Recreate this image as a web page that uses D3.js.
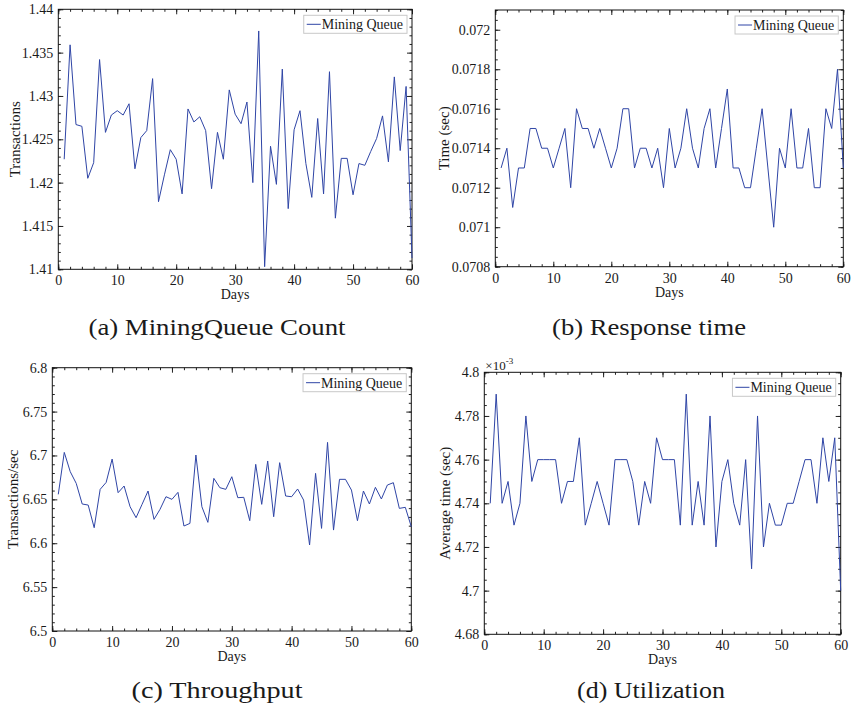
<!DOCTYPE html>
<html>
<head>
<meta charset="utf-8">
<script src="https://cdn.jsdelivr.net/npm/d3@7"></script>
<style>
  body { margin: 0; background: #fff; }
  svg text { font-family: "Liberation Serif", "Times New Roman", serif; fill: #1a1a1a; }
</style>
</head>
<body>
<svg width="851" height="708"></svg>
<script>
// day index shared by all four panels
const days = d3.range(1, 61);

// (a) mining queue count
const queueCount = [
  1.4227, 1.4359, 1.4267, 1.4265, 1.4205, 1.4223, 1.4342, 1.4258, 1.4278, 1.4283,
  1.4278, 1.4291, 1.4216, 1.4252, 1.4260, 1.4320, 1.4178, 1.4209, 1.4238, 1.4227,
  1.4187, 1.4285, 1.4270, 1.4276, 1.4260, 1.4193, 1.4258, 1.4227, 1.4307, 1.4279,
  1.4268, 1.4293, 1.4200, 1.4375, 1.4103, 1.4242, 1.4198, 1.4331, 1.4170, 1.4261,
  1.4283, 1.4222, 1.4183, 1.4274, 1.4187, 1.4328, 1.4159, 1.4228, 1.4228, 1.4186,
  1.4222, 1.4220, 1.4236, 1.4251, 1.4277, 1.4224, 1.4322, 1.4237, 1.4311, 1.4113
];
// (b) response time, sec
const responseTime = [
  0.0713, 0.0714, 0.0711, 0.0713, 0.0713, 0.0715, 0.0715, 0.0714, 0.0714, 0.0713,
  0.0714, 0.0715, 0.0712, 0.0716, 0.0715, 0.0715, 0.0714, 0.0715, 0.0714, 0.0713,
  0.0714, 0.0716, 0.0716, 0.0713, 0.0714, 0.0714, 0.0713, 0.0714, 0.0712, 0.0715,
  0.0713, 0.0714, 0.0716, 0.0714, 0.0713, 0.0715, 0.0716, 0.0713, 0.0715, 0.0717,
  0.0713, 0.0713, 0.0712, 0.0712, 0.0714, 0.0716, 0.0713, 0.0710, 0.0714, 0.0713,
  0.0716, 0.0713, 0.0713, 0.0715, 0.0712, 0.0712, 0.0716, 0.0715, 0.0718, 0.0713
];
// (c) throughput, transactions/sec
const throughput = [
  6.6557, 6.7035, 6.6815, 6.6682, 6.6447, 6.6435, 6.6177, 6.6614, 6.6693, 6.6959,
  6.6576, 6.6652, 6.6416, 6.6291, 6.6443, 6.6595, 6.6272, 6.6386, 6.6530, 6.6500,
  6.6580, 6.6196, 6.6226, 6.7005, 6.6416, 6.6238, 6.6739, 6.6633, 6.6614, 6.6758,
  6.6519, 6.6523, 6.6257, 6.6899, 6.6443, 6.6937, 6.6302, 6.6918, 6.6538, 6.6530,
  6.6618, 6.6492, 6.5980, 6.6796, 6.6169, 6.7149, 6.6150, 6.6728, 6.6728, 6.6606,
  6.6257, 6.6595, 6.6447, 6.6637, 6.6504, 6.6663, 6.6690, 6.6397, 6.6409, 6.6188
];
// (d) utilization, average time in units of 1e-3 sec
const utilization = [
  4.74, 4.79, 4.74, 4.75, 4.73, 4.74, 4.78, 4.75, 4.76, 4.76,
  4.76, 4.76, 4.74, 4.75, 4.75, 4.77, 4.73, 4.74, 4.75, 4.74,
  4.73, 4.76, 4.76, 4.76, 4.75, 4.73, 4.75, 4.74, 4.77, 4.76,
  4.76, 4.76, 4.73, 4.79, 4.73, 4.75, 4.73, 4.78, 4.72, 4.75,
  4.76, 4.74, 4.73, 4.76, 4.71, 4.78, 4.72, 4.74, 4.73, 4.73,
  4.74, 4.74, 4.75, 4.76, 4.76, 4.74, 4.77, 4.75, 4.77, 4.70
];

const xTicks = [0, 10, 20, 30, 40, 50, 60];
const countTicks = [1.41, 1.415, 1.42, 1.425, 1.43, 1.435, 1.44];
const responseTicks = [0.0708, 0.071, 0.0712, 0.0714, 0.0716, 0.0718, 0.072];
const throughputTicks = [6.5, 6.55, 6.6, 6.65, 6.7, 6.75, 6.8];
const utilTicks = [4.68, 4.7, 4.72, 4.74, 4.76, 4.78, 4.8];

const lineColor = '#2f45a6';
const svg = d3.select('svg');

const panels = [
  {values: queueCount, yDomain: [1.41, 1.44], yTicks: countTicks, yMinor: 5,
    box: [58.3, 412, 9.3, 269.3], yLabel: 'Transactions', yLabelX: 15,
    caption: '(a) MiningQueue Count', capX: 217, capY: 335, capW: 257},
  {values: responseTime, yDomain: [0.0708, 0.0721], yTicks: responseTicks, yMinor: 4,
    box: [495.3, 843.3, 10, 266.7], yLabel: 'Time (sec)', yLabelX: 444,
    caption: '(b) Response time', capX: 649, capY: 335, capW: 194},
  {values: throughput, yDomain: [6.5, 6.8], yTicks: throughputTicks, yMinor: 5,
    box: [52.3, 411.3, 367.7, 631], yLabel: 'Transactions/sec', yLabelX: 13,
    caption: '(c) Throughput', capX: 217, capY: 698, capW: 171},
  {values: utilization, yDomain: [4.68, 4.8], yTicks: utilTicks, yMinor: 4,
    box: [484.3, 840.7, 372.3, 634.3], yLabel: 'Average time (sec)', yLabelX: 445,
    caption: '(d) Utilization', capX: 651, capY: 698, capW: 148, exponent: true}
];

panels.forEach(drawPanel);

/**
 * Draws one framed line panel with mirrored inward ticks, legend and caption.
 * @param {object} p panel settings
 */
function drawPanel(p) {
  const [left, right, top, bottom] = p.box;
  const g = svg.append('g');
  const x = d3.scaleLinear().domain([0, 60]).range([left, right]);
  const y = d3.scaleLinear().domain(p.yDomain).range([bottom, top]);

  const xMinor = d3.range(0, 61, 2);
  const yStep = (p.yTicks[1] - p.yTicks[0]) / p.yMinor;
  const nMinor = Math.round((p.yDomain[1] - p.yDomain[0]) / yStep);
  const yMinor = d3.range(nMinor + 1).map((i) => p.yDomain[0] + i * yStep);

  const fmt = (d) => String(d);
  // [axis maker, scale, transform, major ticks, minor ticks, show labels, padding]
  const sides = [
    [d3.axisBottom, x, `translate(0,${bottom})`, xTicks, xMinor, true, 6],
    [d3.axisTop, x, `translate(0,${top})`, xTicks, xMinor, false, 0],
    [d3.axisLeft, y, `translate(${left},0)`, p.yTicks, yMinor, true, 5],
    [d3.axisRight, y, `translate(${right},0)`, p.yTicks, yMinor, false, 0]
  ];
  sides.forEach(([make, scale, tr, major, minor, labels, pad]) => {
    g.append('g').attr('transform', tr)
        .call(make(scale).tickValues(major).tickSizeInner(-5).tickSizeOuter(0)
            .tickPadding(pad)
            .tickFormat(labels ? fmt : ''))
        .call((s) => s.select('.domain').remove())
        .call((s) => s.selectAll('text').style('font-size', '14px')
            .style('font-family', '"Liberation Serif", serif').attr('fill', '#1a1a1a'))
        .call((s) => s.selectAll('line').attr('stroke', '#222'));
    g.append('g').attr('transform', tr)
        .call(make(scale).tickValues(minor).tickSizeInner(-2.5).tickSizeOuter(0).tickFormat(''))
        .call((s) => s.select('.domain').remove())
        .call((s) => s.selectAll('line').attr('stroke', '#222'));
  });

  g.append('rect')
      .attr('x', left).attr('y', top)
      .attr('width', right - left).attr('height', bottom - top)
      .attr('fill', 'none').attr('stroke', '#111').attr('stroke-width', 1);

  g.append('path')
      .datum(p.values)
      .attr('fill', 'none')
      .attr('stroke', lineColor)
      .attr('stroke-width', 1)
      .attr('stroke-linejoin', 'round')
      .attr('d', d3.line().x((d, i) => x(days[i])).y((d) => y(d)));

  // legend
  const leg = g.append('g');
  const legText = leg.append('text')
      .attr('font-size', 14)
      .text('Mining Queue');
  const tw = legText.node().getComputedTextLength();
  const lw = tw + 22;
  const lx = right - 5 - lw;
  const ly = top + 6;
  leg.insert('rect', 'text')
      .attr('x', lx).attr('y', ly).attr('width', lw).attr('height', 18)
      .attr('fill', '#fff').attr('stroke', '#c8c8c8').attr('stroke-width', 1);
  leg.append('line')
      .attr('x1', lx + 3).attr('x2', lx + 17)
      .attr('y1', ly + 9).attr('y2', ly + 9)
      .attr('stroke', lineColor).attr('stroke-width', 1);
  legText.attr('x', lx + 18).attr('y', ly + 14);

  g.append('text')
      .attr('x', (left + right) / 2).attr('y', bottom + 30)
      .attr('text-anchor', 'middle').attr('font-size', 14)
      .text('Days');

  g.append('text')
      .attr('transform', `translate(${p.yLabelX},${(top + bottom) / 2}) rotate(-90)`)
      .attr('text-anchor', 'middle').attr('dy', '0.35em').attr('font-size', 15)
      .text(p.yLabel);

  if (p.exponent) {
    const ex = g.append('text').attr('x', left + 1).attr('y', top - 2.5).attr('font-size', 13);
    ex.append('tspan').text('\u00d710');
    ex.append('tspan').attr('dy', -6).attr('font-size', 9).text('-3');
  }

  g.append('text')
      .attr('x', p.capX).attr('y', p.capY)
      .attr('text-anchor', 'middle').attr('font-size', 23)
      .attr('textLength', p.capW).attr('lengthAdjust', 'spacingAndGlyphs')
      .text(p.caption);
}
</script>
</body>
</html>
